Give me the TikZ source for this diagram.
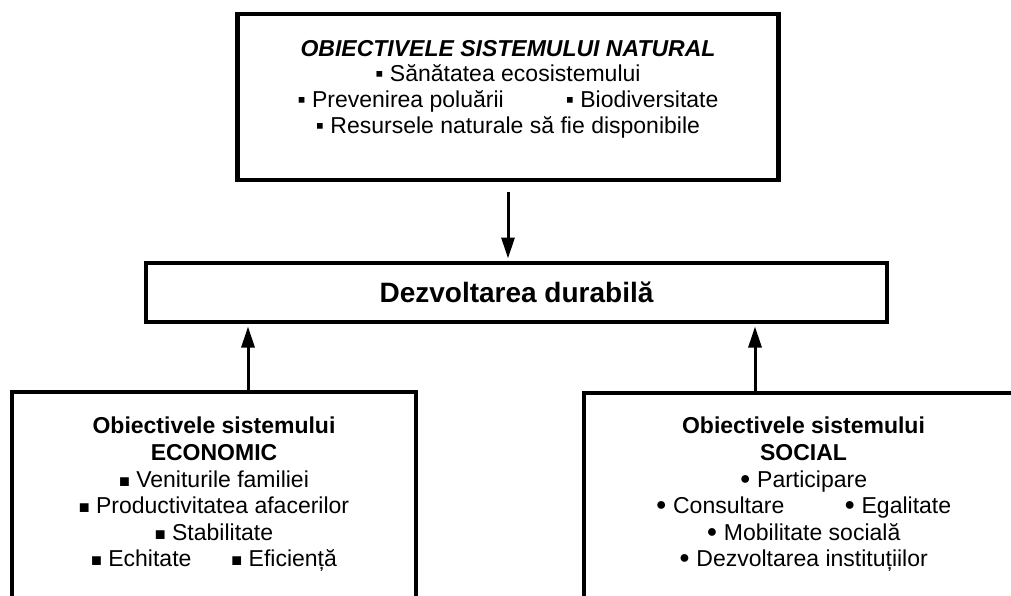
\documentclass[tikz,border=0pt]{standalone}
\usepackage{fontspec}
\setmainfont{Liberation Sans}
\usetikzlibrary{arrows.meta}
\newcommand\tsq{▪}
\newcommand\bsq{{\fontsize{18}{18}\selectfont ■}}
\newcommand\bdt{\raisebox{2.2pt}{\fontsize{18}{18}\selectfont ●}}
\begin{document}
\begin{tikzpicture}[x=1pt,y=-1pt,
  box/.style={draw, line width=4.5pt, inner sep=0pt, fill=white},
  arr/.style={line width=3pt, -{Triangle[length=21pt,width=13pt]}},
  ln/.style={anchor=base, inner sep=0pt, font=\fontsize{23}{26}\selectfont},
  bln/.style={ln, font=\fontsize{23}{26}\selectfont\bfseries}]
\useasboundingbox (0,0) rectangle (1011,596);
\clip (0,0) rectangle (1011,596);
% boxes
\node[box, minimum width=541pt, minimum height=166pt] (top) at (508,97) {};
\node[box, minimum width=741pt, minimum height=59pt] (mid) at (516.5,292.5) {};
\node[box, minimum width=404pt, minimum height=300pt] (botL) at (214,542) {};
\node[box, minimum width=438pt, minimum height=300pt] (botR) at (803,543) {};
% top texts
\node[bln, font=\fontsize{23}{26}\selectfont\bfseries\itshape] (t1) at (508,57) {OBIECTIVELE SISTEMULUI NATURAL};
\node[ln] (t2) at (508,82) {\tsq{} Sănătatea ecosistemului};
\node[ln] (t3) at (508,108) {\tsq{} Prevenirea poluării\hspace{62pt}\tsq{} Biodiversitate};
\node[ln] (t4) at (508,134) {\tsq{} Resursele naturale să fie disponibile};
% middle text
\node[anchor=base, inner sep=0pt, font=\fontsize{28}{32}\selectfont\bfseries] (m1) at (516.5,302) {Dezvoltarea durabilă};
% left texts
\node[bln] (l1) at (214,433) {Obiectivele sistemului};
\node[bln] (l2) at (214,460) {ECONOMIC};
\node[ln] (l3) at (214,487) {\bsq{} Veniturile familiei};
\node[ln] (l4) at (214,513) {\bsq{} Productivitatea afacerilor};
\node[ln] (l5) at (214,540) {\bsq{} Stabilitate};
\node[ln] (l6) at (214,566) {\bsq{} Echitate\hspace{40pt}\bsq{} Eficiență};
% right texts
\node[bln] (r1) at (803.5,433) {Obiectivele sistemului};
\node[bln] (r2) at (803.5,460) {SOCIAL};
\node[ln] (r3) at (803.5,487) {\bdt{} Participare};
\node[ln] (r4) at (803.5,513) {\bdt{} Consultare\hspace{60pt}\bdt{} Egalitate};
\node[ln] (r5) at (803.5,540) {\bdt{} Mobilitate socială};
\node[ln] (r6) at (803.5,566) {\bdt{} Dezvoltarea instituțiilor};
% connectors
\coordinate (aL) at (248,0);
\coordinate (aR) at (755,0);
\draw[arr, shorten <=10pt, shorten >=2.25pt] (top.south) -- (top.south |- mid.north);
\draw[arr, shorten >=2.25pt] (aL |- botL.north) -- (aL |- mid.south);
\draw[arr, shorten >=2.25pt] (aR |- botR.north) -- (aR |- mid.south);
\end{tikzpicture}
\end{document}
